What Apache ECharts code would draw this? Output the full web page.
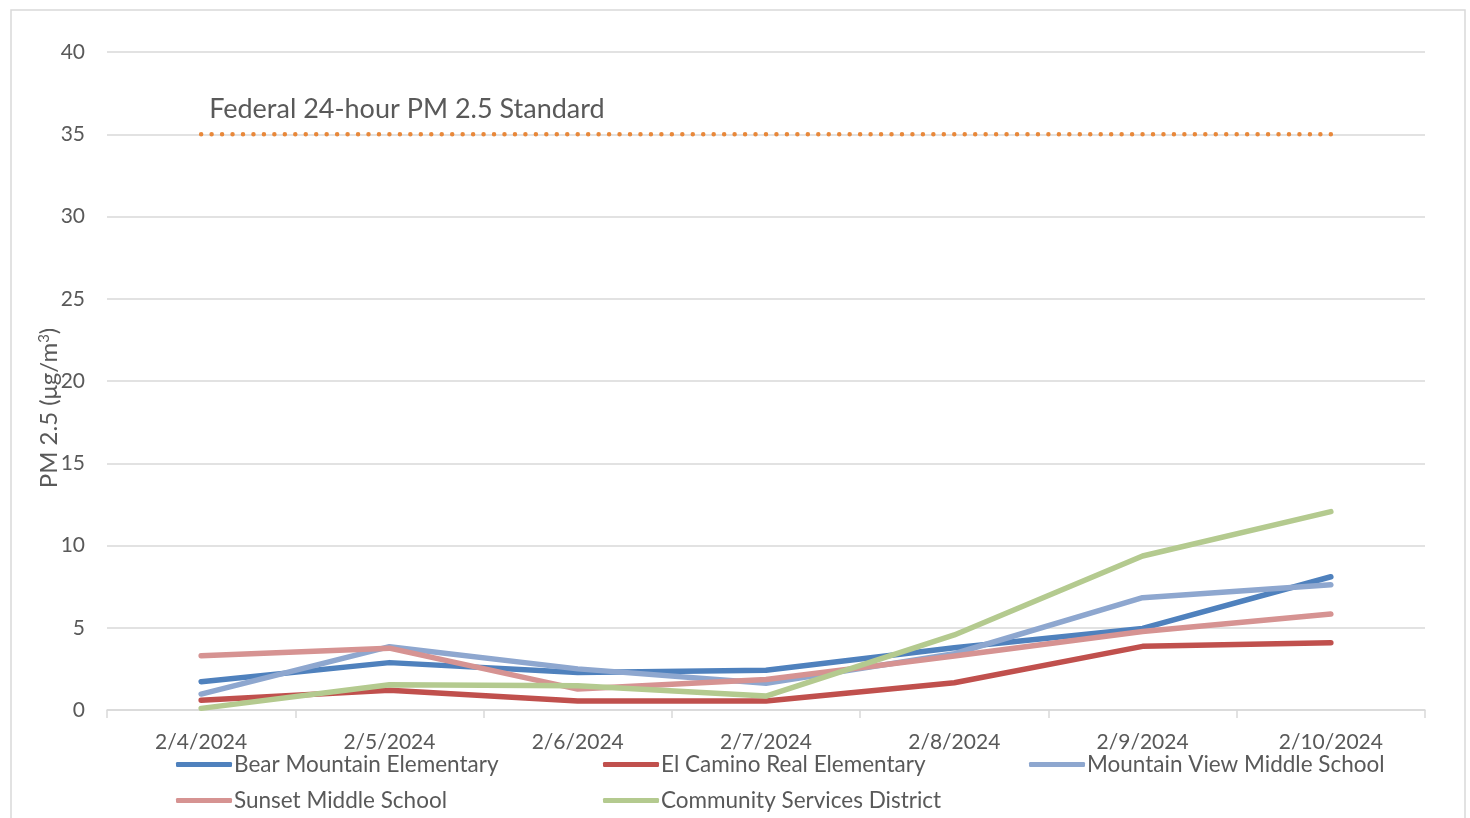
<!DOCTYPE html>
<html>
<head>
<meta charset="utf-8">
<script src="https://cdn.jsdelivr.net/npm/echarts@6/dist/echarts.min.js"></script>
<style>
html,body{margin:0;padding:0;background:#fff;}
#c{width:1470px;height:818px;}
</style>
</head>
<body>
<div id="c"></div>
<script>
var categories = ['2/4/2024','2/5/2024','2/6/2024','2/7/2024','2/8/2024','2/9/2024','2/10/2024'];
var bearMountain = [1.72, 2.88, 2.28, 2.42, 3.79, 4.96, 8.1];
var elCamino = [0.6, 1.2, 0.55, 0.55, 1.66, 3.87, 4.09];
var mountainView = [0.97, 3.85, 2.5, 1.62, 3.42, 6.83, 7.62];
var sunset = [3.3, 3.76, 1.27, 1.85, 3.28, 4.77, 5.84];
var community = [0.1, 1.54, 1.48, 0.85, 4.56, 9.36, 12.06];
var federalStandard = [35, 35, 35, 35, 35, 35, 35];
var standardLabel = 'Federal 24-hour PM 2.5 Standard';
var seriesNames = ['Bear Mountain Elementary','El Camino Real Elementary','Mountain View Middle School','Sunset Middle School','Community Services District'];
var yTicks = {min: 0, max: 40, interval: 5};

var FONT = 'Lato, "Open Sans", sans-serif';
var TXT = '#595959';
var colors = ['#4F81BD','#C0504D','#8EA7CF','#D69392','#B4CA8F'];
var values = [bearMountain, elCamino, mountainView, sunset, community];

var series = values.map(function(v, i){
  return {
    name: seriesNames[i], type: 'line', data: v,
    showSymbol: false, symbol: 'none',
    lineStyle: {color: colors[i], width: 5.5, cap: 'round', join: 'round'},
    itemStyle: {color: colors[i]},
    emphasis: {disabled: true}, z: 3 + i
  };
});
series.push({
  name: 'standard', type: 'line', z: 2,
  data: federalStandard.map(function(v, i){
    return i === 0 ? {value: v, label: {show: true}} : v;
  }),
  symbol: 'circle', symbolSize: 0.01, showSymbol: true,
  lineStyle: {color: '#E8883A', width: 4.5, type: [0.01, 10.45], cap: 'round'},
  itemStyle: {color: '#E8883A'},
  label: {show: false, position: 'right', distance: 4, offset: [4, -25],
    formatter: function(){ return standardLabel; },
    color: TXT, fontSize: 27, fontFamily: FONT},
  emphasis: {disabled: true}
});

var legendPos = [[171,748],[598,748],[1024,748],[171,784],[598,784]];
var legends = seriesNames.map(function(n, i){
  return {
    data: [n], left: legendPos[i][0], top: legendPos[i][1],
    icon: 'roundRect', itemWidth: 56, itemHeight: 5, itemGap: 0,
    textStyle: {color: TXT, fontSize: 22.5, fontFamily: FONT, padding: [0,0,0,-3]},
    selectedMode: false
  };
});

var chart = echarts.init(document.getElementById('c'), null, {renderer: 'canvas'});
chart.setOption({
  animation: false,
  backgroundColor: '#fff',
  graphic: [{type: 'rect', shape: {x: 11, y: 10, width: 1454, height: 820},
    style: {fill: 'none', stroke: '#D9D9D9', lineWidth: 1.5}, silent: true, z: -1}],
  grid: {left: 107, right: 45, top: 52, bottom: 108, containLabel: false},
  legend: legends,
  xAxis: {
    type: 'category', data: categories, boundaryGap: true,
    axisLine: {lineStyle: {color: '#D9D9D9', width: 1.5}},
    axisTick: {show: true, length: 8, lineStyle: {color: '#D9D9D9', width: 1.5}},
    axisLabel: {color: TXT, fontSize: 21, fontFamily: FONT, margin: 22}
  },
  yAxis: {
    type: 'value', min: yTicks.min, max: yTicks.max, interval: yTicks.interval,
    name: '{a|PM 2.5 (μg/m}{s|3}{a|)}', nameLocation: 'middle', nameGap: 45, nameRotate: 90,
    nameMoveOverlap: false,
    nameTextStyle: {color: TXT, fontSize: 24, fontFamily: FONT, padding: [0, 54, 0, 0],
      rich: {a: {color: TXT, fontSize: 24, fontFamily: FONT},
             s: {color: TXT, fontSize: 15, fontFamily: FONT, verticalAlign: 'top', padding: [0,0,10,0]}}},
    axisLine: {show: false}, axisTick: {show: false},
    axisLabel: {color: TXT, fontSize: 21, fontFamily: FONT, margin: 22},
    splitLine: {lineStyle: {color: '#D9D9D9', width: 1.5}}
  },
  series: series
});
</script>
</body>
</html>
